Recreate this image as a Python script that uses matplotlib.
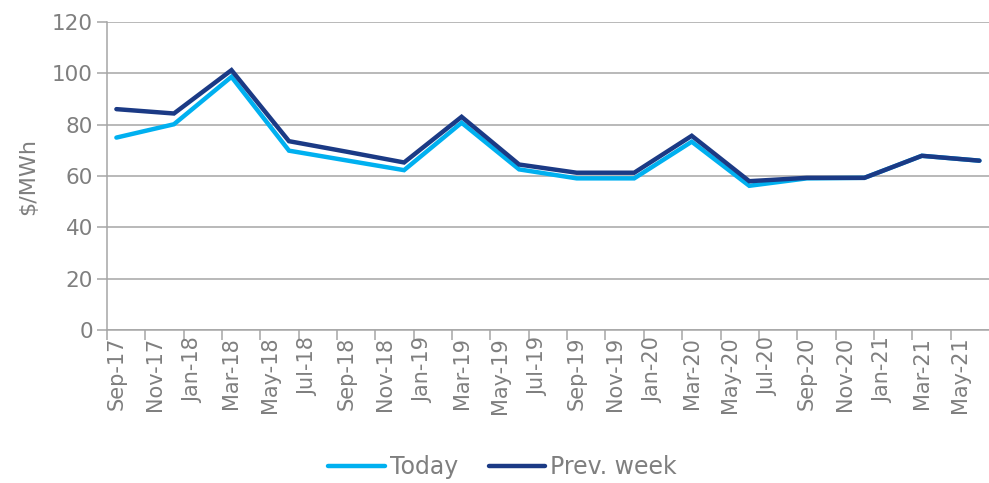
import matplotlib
matplotlib.use("Agg")
import matplotlib.pyplot as plt
import numpy as np

# Data (quarterly points, month index from Sep-17)
months = ["Sep-17", "Dec-17", "Mar-18", "Jun-18", "Sep-18", "Dec-18", "Mar-19", "Jun-19",
          "Sep-19", "Dec-19", "Mar-20", "Jun-20", "Sep-20", "Dec-20", "Mar-21", "Jun-21"]
month_index = [0, 3, 6, 9, 12, 15, 18, 21, 24, 27, 30, 33, 36, 39, 42, 45]
today = [75.0, 80.2, 98.7, 69.9, 66.1, 62.3, 80.8, 62.6, 59.1, 59.1, 73.4, 56.2, 59.1, 59.3, 67.9, 66.0]
prev_week = [86.1, 84.4, 101.3, 73.6, 69.5, 65.3, 83.1, 64.5, 61.3, 61.3, 75.7, 58.0, 59.3, 59.3, 67.9, 66.0]

tick_labels = ["Sep-17", "Nov-17", "Jan-18", "Mar-18", "May-18", "Jul-18", "Sep-18", "Nov-18",
               "Jan-19", "Mar-19", "May-19", "Jul-19", "Sep-19", "Nov-19", "Jan-20", "Mar-20",
               "May-20", "Jul-20", "Sep-20", "Nov-20", "Jan-21", "Mar-21", "May-21"]
tick_months = list(range(0, 46, 2))

plt.rcParams['font.family'] = ['DejaVu Sans']
text_color = "#7F7F7F"
grid_color = "#A6A6A6"

fig = plt.figure(figsize=(9.89, 4.83), dpi=100)
ax = fig.add_axes([0.108, 0.317, 0.892, 0.637])

x = np.array(month_index) + 0.5
ax.plot(x, today, color="#00B0F0", lw=3.2, label="Today", solid_capstyle="round", solid_joinstyle="miter", zorder=3)
ax.plot(x, prev_week, color="#1B3A85", lw=3.2, label="Prev. week", solid_capstyle="round", solid_joinstyle="miter", zorder=4)

ax.set_xlim(0, 46)
ax.set_ylim(0, 120)
ax.set_yticks(range(0, 121, 20))
ax.yaxis.grid(True, color=grid_color, lw=1.1)
ax.set_axisbelow(True)

# ticks at slot boundaries, labels at slot centres
ax.set_xticks(tick_months)
ax.set_xticklabels([])
ax.set_xticks(np.array(tick_months) + 0.5, minor=True)
ax.set_xticklabels(tick_labels, minor=True, rotation=90, fontsize=15, color=text_color)
ax.tick_params(axis="x", which="minor", length=0, pad=5)
ax.tick_params(axis="x", which="major", length=7, color=grid_color, width=1.1)
ax.tick_params(axis="y", length=7, color=grid_color, width=1.1, labelsize=15.5, labelcolor=text_color, pad=3)

for s in ["top", "right"]:
    ax.spines[s].set_visible(False)
for s in ["left", "bottom"]:
    ax.spines[s].set_color(grid_color)
    ax.spines[s].set_linewidth(1.1)

ax.set_ylabel("$/MWh", fontsize=16, color=text_color, labelpad=10)

leg = fig.legend(loc="lower center", bbox_to_anchor=(0.508, -0.036), ncol=2, frameon=False,
                 fontsize=17, handlelength=2.4, columnspacing=1.3, handletextpad=0.2)
for t in leg.get_texts():
    t.set_color(text_color)

fig.savefig("out.png", dpi=100)
